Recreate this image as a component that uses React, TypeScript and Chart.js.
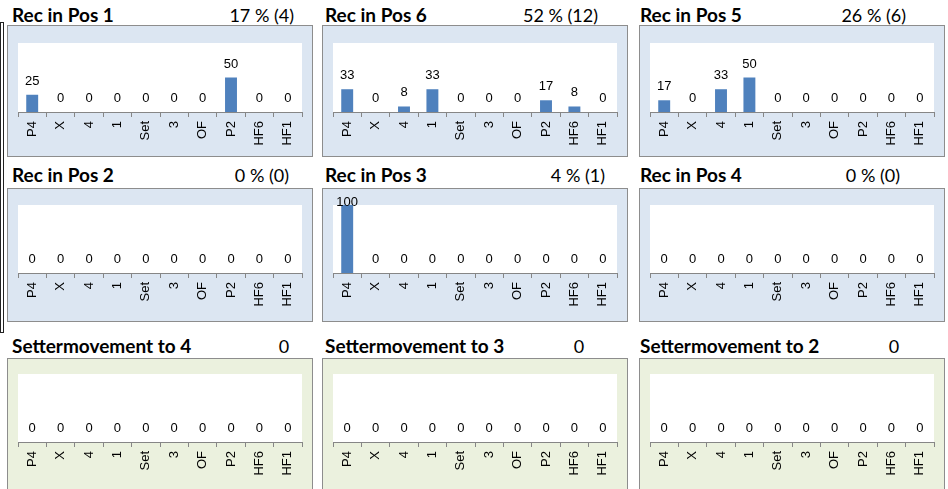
import React, { useEffect, useRef } from "react";
import { Chart, registerables } from "chart.js";

Chart.register(...registerables);

// ---- Data ----
const categories = ["P4", "X", "4", "1", "Set", "3", "OF", "P2", "HF6", "HF1"];

const recPos1 = [25, 0, 0, 0, 0, 0, 0, 50, 0, 0];
const recPos6 = [33, 0, 8, 33, 0, 0, 0, 17, 8, 0];
const recPos5 = [17, 0, 33, 50, 0, 0, 0, 0, 0, 0];
const recPos2 = [0, 0, 0, 0, 0, 0, 0, 0, 0, 0];
const recPos3 = [100, 0, 0, 0, 0, 0, 0, 0, 0, 0];
const recPos4 = [0, 0, 0, 0, 0, 0, 0, 0, 0, 0];
const setter4 = [0, 0, 0, 0, 0, 0, 0, 0, 0, 0];
const setter3 = [0, 0, 0, 0, 0, 0, 0, 0, 0, 0];
const setter2 = [0, 0, 0, 0, 0, 0, 0, 0, 0, 0];

const panelTitles = [
  "Rec in Pos 1", "Rec in Pos 6", "Rec in Pos 5",
  "Rec in Pos 2", "Rec in Pos 3", "Rec in Pos 4",
  "Settermovement to 4", "Settermovement to 3", "Settermovement to 2",
];
const panelStats = [
  "17 % (4)", "52 % (12)", "26 % (6)",
  "0 % (0)", "4 % (1)", "0 % (0)",
  "0", "0", "0",
];
const panelSeries = [recPos1, recPos6, recPos5, recPos2, recPos3, recPos4, setter4, setter3, setter2];

// ---- Layout (positions / styles) ----
const colBoxLeft = [7, 322, 639];
const boxWidth = 306;
const rowBoxTop = [25, 188, 358];
const rowBoxBottom = [157, 322, 500];
const rowPlotTop = [43, 205, 374];
const rowAxis = [112, 273, 442];
const rowTitleBaseline = [22, 182, 353];
const colTitleLeft = [12, 325, 640];
// stat text anchor: [x, align]
const statAnchors: [number, "right" | "center"][] = [
  [294, "right"], [598, "right"], [906, "right"],
  [289, "right"], [605, "right"], [900, "right"],
  [284, "center"], [579, "center"], [894, "center"],
];
const rowBg = ["#dce6f2", "#dce6f2", "#ebf1de"];

const BAR = "#4f81bd";
const AXIS = "#868686";
const LABEL_FONT = "'Liberation Sans', Arial, sans-serif";
const TITLE_FONT = "Lato, 'Open Sans', sans-serif";

const whiteArea = {
  id: "whiteArea",
  beforeDraw(chart: any) {
    const { ctx, chartArea } = chart;
    if (!chartArea) return;
    ctx.save();
    ctx.fillStyle = "#ffffff";
    ctx.fillRect(chartArea.left, chartArea.top, chartArea.right - chartArea.left, chartArea.bottom - chartArea.top);
    ctx.restore();
  },
};

const valueLabels = {
  id: "valueLabels",
  afterDatasetsDraw(chart: any) {
    const { ctx } = chart;
    const meta = chart.getDatasetMeta(0);
    const data = chart.data.datasets[0].data;
    ctx.save();
    ctx.font = `13px ${LABEL_FONT}`;
    ctx.fillStyle = "#000000";
    ctx.textAlign = "center";
    ctx.textBaseline = "alphabetic";
    meta.data.forEach((bar: any, i: number) => {
      const y = Math.max(bar.y - 10, 17);
      ctx.fillText(String(data[i]), bar.x, y);
    });
    ctx.restore();
  },
};

function Panel({ idx }: { idx: number }) {
  const ref = useRef<HTMLCanvasElement>(null);
  const row = Math.floor(idx / 3);
  const col = idx % 3;
  const boxLeft = colBoxLeft[col];
  const boxTop = rowBoxTop[row];
  const boxH = rowBoxBottom[row] - boxTop;
  const innerW = boxWidth - 2;
  const innerH = boxH - 2;
  const padTop = rowPlotTop[row] - (boxTop + 1);
  const axisRel = rowAxis[row] - (boxTop + 1);

  useEffect(() => {
    if (!ref.current) return;
    const chart = new Chart(ref.current, {
      type: "bar",
      data: {
        labels: categories,
        datasets: [
          {
            data: panelSeries[idx],
            backgroundColor: BAR,
            borderWidth: 0,
            barPercentage: 0.42,
            categoryPercentage: 1,
          },
        ],
      },
      options: {
        responsive: false,
        animation: false,
        devicePixelRatio: 1,
        layout: { padding: { left: 10, right: 10, top: padTop, bottom: 0 } },
        plugins: { legend: { display: false }, tooltip: { enabled: false }, title: { display: false } },
        scales: {
          x: {
            offset: true,
            grid: {
              display: true,
              offset: true,
              drawOnChartArea: false,
              drawTicks: true,
              tickLength: 5,
              color: AXIS,
              lineWidth: 1,
            },
            border: { display: true, color: AXIS, width: 1 },
            ticks: {
              minRotation: 90,
              maxRotation: 90,
              autoSkip: false,
              padding: 4,
              color: "#000000",
              font: { family: LABEL_FONT, size: 13 },
            },
            afterFit: (scale: any) => {
              scale.height = innerH - axisRel;
            },
          },
          y: { display: false, min: 0, max: 100 },
        },
      },
      plugins: [whiteArea, valueLabels],
    });
    return () => chart.destroy();
  }, [idx]);

  const [statX, statAlign] = statAnchors[idx];
  const titleTop = rowTitleBaseline[row] - 17;

  return (
    <>
      <div
        style={{
          position: "absolute",
          left: colTitleLeft[col],
          top: titleTop,
          font: `bold 19px ${TITLE_FONT}`,
          lineHeight: "20px",
          color: "#000",
          whiteSpace: "nowrap",
        }}
      >
        {panelTitles[idx]}
      </div>
      <div
        style={{
          position: "absolute",
          left: statAlign === "right" ? statX - 200 : statX - 100,
          width: 200,
          top: titleTop,
          textAlign: statAlign,
          font: `18px ${TITLE_FONT}`,
          lineHeight: "20px",
          color: "#000",
          whiteSpace: "nowrap",
        }}
      >
        {panelStats[idx]}
      </div>
      <div
        style={{
          position: "absolute",
          left: boxLeft,
          top: boxTop,
          width: innerW,
          height: innerH,
          border: "1px solid #8d8d8d",
          background: rowBg[row],
        }}
      >
        <canvas ref={ref} width={innerW} height={innerH} style={{ display: "block", width: innerW, height: innerH }} />
      </div>
    </>
  );
}

export default function App() {
  return (
    <div
      style={{
        position: "absolute",
        left: 0,
        top: 0,
        width: 948,
        height: 489,
        overflow: "hidden",
        background: "#ffffff",
      }}
    >
      <div
        style={{
          position: "absolute",
          left: 0,
          top: 22,
          width: 2,
          height: 309,
          border: "1px solid #222",
        }}
      />
      {panelTitles.map((_, i) => (
        <Panel key={i} idx={i} />
      ))}
    </div>
  );
}
